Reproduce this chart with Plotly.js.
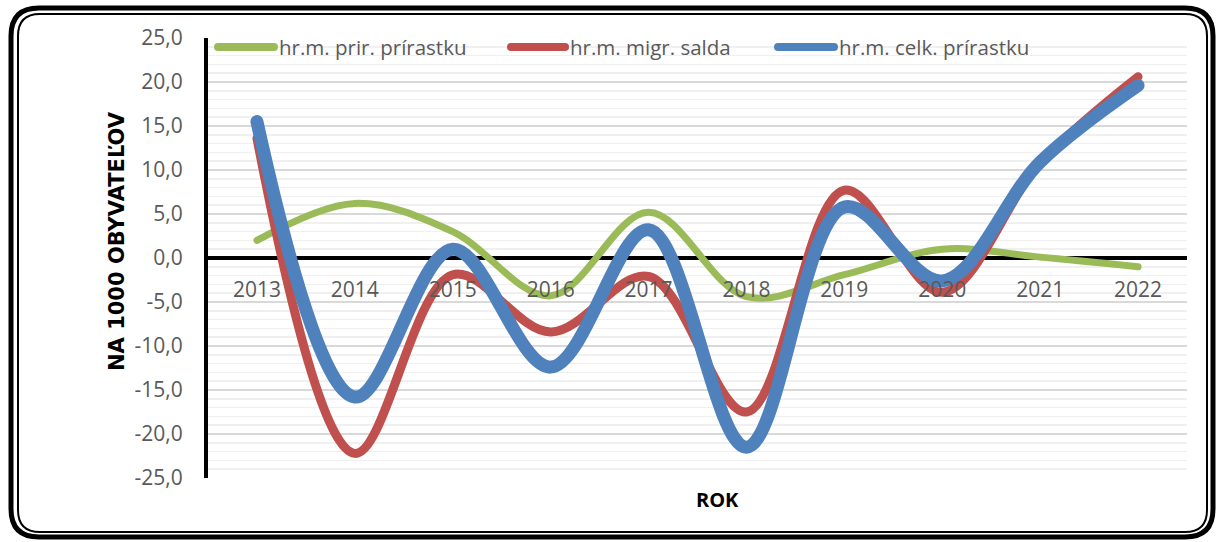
<!DOCTYPE html>
<html>
<head>
<meta charset="utf-8">
<script src="https://cdn.plot.ly/plotly-3.0.1.min.js"></script>
<style>
html,body{margin:0;padding:0;background:#fff;}
#chart{width:1218px;height:542px;}
.js-line{stroke-linecap:round;stroke-linejoin:round;}
.shapelayer path{stroke-linecap:round;stroke-linejoin:round;}
</style>
</head>
<body>
<div id="chart"></div>
<script>
// ---- data ----
var years = ['2013','2014','2015','2016','2017','2018','2019','2020','2021','2022'];
var seriesNames = ['hr.m. prir. prírastku', 'hr.m. migr. salda', 'hr.m. celk. prírastku'];
var prir = [2.0, 6.2, 3.0, -4.3, 5.2, -4.4, -1.9, 1.0, 0.1, -1.0];
var migr = [13.6, -22.2, -1.9, -8.4, -2.1, -17.5, 7.7, -3.9, 10.8, 20.6];
var celk = [15.5, -15.8, 1.0, -12.4, 3.2, -21.5, 5.8, -2.6, 10.9, 19.6];
var yTickVals = [-25, -20, -15, -10, -5, 0, 5, 10, 15, 20, 25];
var yTickText = ['-25,0', '-20,0', '-15,0', '-10,0', '-5,0', '0,0', '5,0', '10,0', '15,0', '20,0', '25,0'];
var yTitle = 'NA 1000 OBYVATEĽOV';
var xTitle = 'ROK';

// ---- layout helpers (pixel -> paper) ----
var W = 1218, H = 542;
var L = 208, R = 1187, T = 38, B = 478;
function X(px){ return (px - L) / (R - L); }
function Y(py){ return (B - py) / (B - T); }
function roundRect(x0, y0, x1, y1, r){
  var rx = r / (R - L), ry = r / (B - T);
  var a = X(x0), b = X(x1), c = Y(y0), d = Y(y1);
  return 'M' + (a+rx) + ',' + c +
    ' L' + (b-rx) + ',' + c +
    ' Q' + b + ',' + c + ' ' + b + ',' + (c-ry) +
    ' L' + b + ',' + (d+ry) +
    ' Q' + b + ',' + d + ' ' + (b-rx) + ',' + d +
    ' L' + (a+rx) + ',' + d +
    ' Q' + a + ',' + d + ' ' + a + ',' + (d+ry) +
    ' L' + a + ',' + (c-ry) +
    ' Q' + a + ',' + c + ' ' + (a+rx) + ',' + c + ' Z';
}

var colors = ['#9BBB59', '#C0504D', '#4F81BD'];
var widths = [7, 9, 13];
var vals = [prir, migr, celk];

var traces = vals.map(function(v, i){
  return {
    x: years, y: v, type: 'scatter', mode: 'lines', name: seriesNames[i],
    line: {color: colors[i], width: widths[i], shape: 'spline', smoothing: 1},
    hoverinfo: 'skip', showlegend: false
  };
});

var fontFam = '"Open Sans", "DejaVu Sans", sans-serif';
var boldFam = '"DejaVu Sans", "Open Sans", sans-serif';
var shapes = [
  {type:'path', xref:'paper', yref:'paper', path: roundRect(11, 8, 1213, 537, 28), line:{color:'#000', width:5}, fillcolor:'rgba(0,0,0,0)', layer:'above'},
  {type:'path', xref:'paper', yref:'paper', path: roundRect(18, 14, 1207, 532, 22), line:{color:'#000', width:2}, fillcolor:'rgba(0,0,0,0)', layer:'above'}
];
var annotations = [
  {text: '<b>' + xTitle + '</b>', xref:'paper', yref:'paper', x: X(717), y: Y(499), showarrow:false,
   font:{family: fontFam, size: 20, color:'#000'}, xanchor:'center', yanchor:'middle'},
  {text: '<b>' + yTitle + '</b>', xref:'paper', yref:'paper', x: X(117), y: Y(241), showarrow:false,
   textangle: -90, font:{family: boldFam, size: 21, color:'#000'}, xanchor:'center', yanchor:'middle'}
];
var legX = [[218, 274, 277], [511, 565, 568], [778, 834, 837]];
for (var i = 0; i < 3; i++){
  shapes.push({type:'line', xref:'paper', yref:'paper', x0: X(legX[i][0]), x1: X(legX[i][1]), y0: Y(47), y1: Y(47),
    line:{color: colors[i], width: 8}, layer:'above'});
  annotations.push({text: seriesNames[i], xref:'paper', yref:'paper', x: X(legX[i][2]), y: Y(47), showarrow:false,
    xanchor:'left', yanchor:'middle', font:{family: fontFam, size: 20.5, color:'#595959'}});
}

var layout = {
  width: W, height: H,
  margin: {l: L, r: W - R, t: T, b: H - B},
  paper_bgcolor: '#fff', plot_bgcolor: '#fff',
  showlegend: false,
  font: {family: fontFam, color: '#595959'},
  xaxis: {
    type: 'category', range: [-0.5, 9.5], anchor: 'free', position: 0.5,
    showgrid: false, showline: false, zeroline: false, ticks: '',
    ticklabelstandoff: 17,
    tickfont: {family: fontFam, size: 21, color: '#595959'},
    layer: 'above traces', fixedrange: true
  },
  yaxis: {
    range: [-25, 25], tickmode: 'array', tickvals: yTickVals, ticktext: yTickText,
    showgrid: true, gridcolor: '#d9d9d9', gridwidth: 1.5,
    minor: {dtick: 1, tick0: 0, showgrid: true, gridcolor: '#f0f0f0', gridwidth: 1.5},
    zeroline: true, zerolinecolor: '#000', zerolinewidth: 4,
    showline: true, linecolor: '#000', linewidth: 4,
    ticks: '', ticklabelstandoff: 17,
    tickfont: {family: fontFam, size: 21, color: '#595959'},
    fixedrange: true
  },
  shapes: shapes,
  annotations: annotations
};

Plotly.newPlot('chart', traces, layout, {displayModeBar: false, staticPlot: true});
</script>
</body>
</html>
